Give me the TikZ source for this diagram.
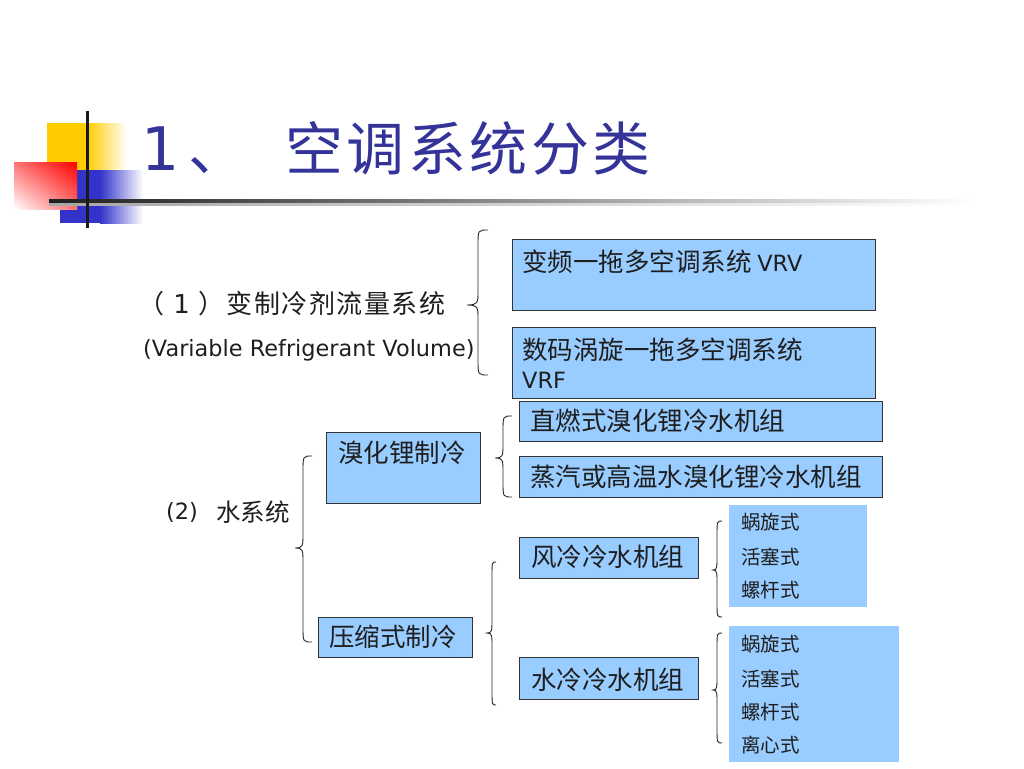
\documentclass[tikz,border=0pt]{standalone}
\usepackage{fontspec}
\setmainfont{DejaVu Sans}
\usetikzlibrary{shadings}
\newfontfamily\cjk{Noto Sans CJK SC}
\newfontfamily\cjkwide[LetterSpace=6]{Noto Sans CJK SC}
\newfontfamily\lat{DejaVu Sans}
\definecolor{boxblue}{RGB}{153,204,255}
\definecolor{titleblue}{RGB}{51,51,153}
\definecolor{bordergray}{RGB}{51,51,51}
\definecolor{decoyellow}{RGB}{255,204,0}
\definecolor{decored}{RGB}{255,0,0}
\definecolor{decoblue}{RGB}{51,51,204}
\definecolor{txtgray}{RGB}{30,30,30}
% #1 end x, #2 stem x, #3 tip x, #4 top y, #5 tip y, #6 bottom y
\newcommand\mybrace[6]{%
  \draw[bracestyle] (#1,#4) .. controls (#2,#4) .. (#2,#4+15) -- (#2,#5-14)
    .. controls (#2,#5-2) and (#2,#5) .. (#3,#5) .. controls (#2,#5) and (#2,#5+2) .. (#2,#5+14)
    -- (#2,#6-15) .. controls (#2,#6) .. (#1,#6);}
\tikzset{
  box/.style={draw=bordergray, line width=1.4pt, fill=boxblue, anchor=north west, inner sep=0pt},
  plainbox/.style={fill=boxblue, anchor=north west, inner sep=0pt},
  txt/.style={anchor=west, inner sep=0pt, text=txtgray, font=\cjk\fontsize{25.5}{30}\selectfont},
  smalltxt/.style={anchor=west, inner sep=0pt, text=txtgray, font=\cjk\fontsize{19.5}{23}\selectfont},
  lattxt/.style={anchor=west, inner sep=0pt, text=txtgray, font=\lat\fontsize{22.4}{27}\selectfont},
  bracestyle/.style={draw=black!85, line width=0.9pt},
}
\begin{document}
\begin{tikzpicture}[x=1pt,y=-1pt]
\useasboundingbox (0,0) rectangle (1024,768);
% decoration
\fill[decoyellow] (47,123) rectangle (87,170);
\shade[left color=decoyellow, right color=white] (87,123) rectangle (127,170);
\fill[decoblue] (60,170) rectangle (100,223);
\shade[left color=decoblue, right color=white] (100,170) rectangle (143,223);
\shade[upper right=decored, lower left=white, upper left=decored!55!white, lower right=decored!55!white] (14,162) rectangle (77,209);
\shade[left color=black!88, right color=white] (49,199) rectangle (975,203.5);
\shade[left color=black!35, right color=white] (49,203.5) rectangle (975,205);
\draw[line width=3pt, black!90] (87,111) -- (87,228);
% title
\node[anchor=base west, inner sep=0pt, text=titleblue, font=\lat\fontsize{60}{70}\selectfont] (tnum) at (141,170) {1};
\node[anchor=base west, inner sep=0pt, text=titleblue, font=\cjk\fontsize{58}{66}\selectfont] (tcomma) at (188,170) {、};
\node[anchor=base west, inner sep=0pt, text=titleblue, font=\cjkwide\fontsize{58}{66}\selectfont] (title) at (285,170) {空调系统分类};
% (1)
\node[txt, font=\cjkwide\fontsize{26}{30}\selectfont] (t1a) at (138,304) {（\hspace{0.35em}{\lat 1}\hspace{0.35em}）变制冷剂流量系统};
\node[lattxt] (t1b) at (143,350) {(Variable Refrigerant Volume)};
\mybrace{488}{478}{467}{230}{305}{375}
% VRV / VRF boxes
\node[box, minimum width=363pt, minimum height=71pt] (vrv) at (512,239) {};
\node[txt] (vrvt) at (522,262) {变频一拖多空调系统 {\lat\fontsize{22.4}{27}\selectfont VRV}};
\node[box, minimum width=363pt, minimum height=71pt] (vrf) at (512,327) {};
\node[txt] (vrft) at (522,350) {数码涡旋一拖多空调系统};
\node[lattxt] (vrft2) at (522,380) {VRF};
% (2)
\node[lattxt] (t2a) at (166,512) {(2)};
\node[txt, font=\cjk\fontsize{24.5}{28}\selectfont] (t2b) at (216,512) {水系统};
\mybrace{312}{303}{295}{456}{548}{642}
% LiBr
\node[box, minimum width=154pt, minimum height=71pt] (xh) at (326,432) {};
\node[txt] (xht) at (338,453) {溴化锂制冷};
\mybrace{512}{503}{495}{416}{458}{497}
\node[box, minimum width=363pt, minimum height=40pt] (zr) at (519,401) {};
\node[txt] (zrt) at (530,421) {直燃式溴化锂冷水机组};
\node[box, minimum width=363pt, minimum height=41pt] (zq) at (519,456) {};
\node[txt] (zqt) at (530,477) {蒸汽或高温水溴化锂冷水机组};
% compression
\node[box, minimum width=154pt, minimum height=40pt] (ys) at (318,617) {};
\node[txt] (yst) at (329,637) {压缩式制冷};
\mybrace{496}{492}{487}{562}{633}{705}
\node[box, minimum width=179pt, minimum height=41pt] (fl) at (519,537) {};
\node[txt] (flt) at (531,557) {风冷冷水机组};
\node[box, minimum width=179pt, minimum height=42pt] (sl) at (519,657) {};
\node[txt] (slt) at (531,680) {水冷冷水机组};
% types
\mybrace{722}{717}{713}{521}{570}{617}
\node[plainbox, minimum width=138pt, minimum height=102pt] (k1) at (729,505) {};
\node[smalltxt] (k1a) at (741,522) {蜗旋式};
\node[smalltxt] (k1b) at (741,557) {活塞式};
\node[smalltxt] (k1c) at (741,590) {螺杆式};
\mybrace{722}{717}{713}{633}{690}{743}
\node[plainbox, minimum width=170pt, minimum height=136pt] (k2) at (729,626) {};
\node[smalltxt] (k2a) at (741,644) {蜗旋式};
\node[smalltxt] (k2b) at (741,679) {活塞式};
\node[smalltxt] (k2c) at (741,712) {螺杆式};
\node[smalltxt] (k2d) at (741,745) {离心式};
\end{tikzpicture}
\end{document}
